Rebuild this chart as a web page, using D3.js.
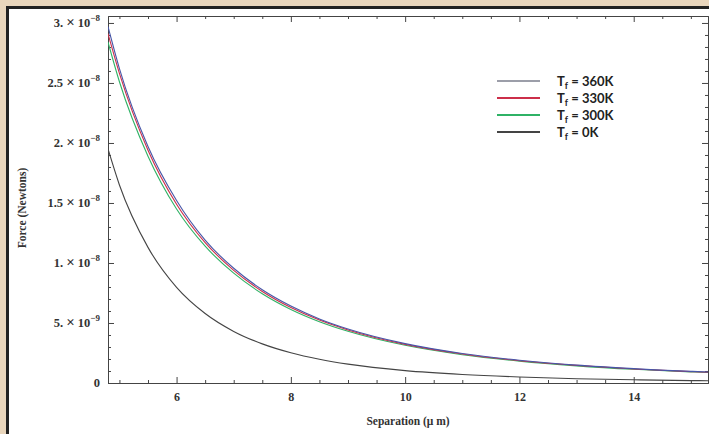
<!DOCTYPE html>
<html lang="en">
<head>
<meta charset="UTF-8">
<script src="https://d3js.org/d3.v7.min.js"></script>
<style>
  body { margin: 0; background: #e9d6bc; }
  svg { display: block; }
  .tick text { font-family: "Liberation Serif", "DejaVu Serif", serif; font-weight: bold; font-size: 12px; fill: #333; }
</style>
</head>
<body>
<div id="chart"></div>
<script>
// separation in micrometres
var separation = [4.8, 5, 5.5, 6, 6.5, 7, 7.5, 8, 8.5, 9, 10, 11, 12, 13, 14, 15, 15.3];
// force in units of 1e-8 N
var force360 = [2.97, 2.62, 1.97, 1.52, 1.19, 0.956, 0.777, 0.641, 0.534, 0.450, 0.328, 0.246, 0.190, 0.149, 0.120, 0.097, 0.092];
var force330 = [2.91, 2.58, 1.94, 1.49, 1.17, 0.939, 0.763, 0.629, 0.524, 0.442, 0.322, 0.242, 0.186, 0.147, 0.117, 0.095, 0.090];
var force300 = [2.84, 2.51, 1.89, 1.45, 1.14, 0.915, 0.744, 0.613, 0.511, 0.431, 0.314, 0.236, 0.182, 0.143, 0.114, 0.093, 0.088];
var force0 = [1.95, 1.65, 1.13, 0.797, 0.579, 0.430, 0.326, 0.252, 0.198, 0.157, 0.103, 0.071, 0.050, 0.036, 0.027, 0.020, 0.019];

var seriesNames = ["360K", "330K", "300K", "0K"];
var seriesColors = ["#4756a8", "#cc2f4a", "#2fb266", "#444444"];
var seriesValues = [force360, force330, force300, force0];

var xMajor = [6, 8, 10, 12, 14];
var yMajor = [0, 0.5e-8, 1e-8, 1.5e-8, 2e-8, 2.5e-8, 3e-8];
var yTickLabels = [["0", ""], ["5.", "\u22129"], ["1.", "\u22128"], ["1.5", "\u22128"], ["2.", "\u22128"], ["2.5", "\u22128"], ["3.", "\u22128"]];

var W = 709, H = 434;
var svg = d3.select("#chart").append("svg").attr("width", W).attr("height", H);

// page: beige margin, dark frame on top/left, white panel
svg.append("rect").attr("x", 6).attr("y", 6).attr("width", W).attr("height", H).attr("fill", "#222");
svg.append("rect").attr("x", 9).attr("y", 9).attr("width", W).attr("height", H).attr("fill", "#fff");

var pLeft = 108, pRight = 708, pTop = 16, pBottom = 383;

var x = d3.scaleLinear().domain([4.8, 15.3]).range([pLeft, pRight]);
var y = d3.scaleLinear().domain([0, 3.058e-8]).range([pBottom, pTop]);

var xMinor = d3.range(5, 15.01, 0.5).filter(function (v) { return v % 2 !== 0; });
var yMinor = d3.range(0, 3.01e-8, 0.1e-8).filter(function (v, i) { return i % 5 !== 0; });

var axisColor = "#444";

function styleAxis(g) {
    g.select(".domain").attr("stroke", axisColor);
    g.selectAll(".tick line").attr("stroke", axisColor);
}

// bottom
svg.append("g").attr("transform", "translate(0," + pBottom + ")")
    .call(d3.axisBottom(x).tickValues(xMinor).tickSize(-3).tickFormat("").tickSizeOuter(0))
    .call(styleAxis);
svg.append("g").attr("transform", "translate(0," + pBottom + ")")
    .call(d3.axisBottom(x).tickValues(xMajor).tickSizeInner(-6).tickSizeOuter(0).tickPadding(9).tickFormat(d3.format("d")))
    .call(styleAxis);
// top
svg.append("g").attr("transform", "translate(0," + pTop + ")")
    .call(d3.axisTop(x).tickValues(xMinor).tickSize(-3).tickFormat("").tickSizeOuter(0))
    .call(styleAxis);
svg.append("g").attr("transform", "translate(0," + pTop + ")")
    .call(d3.axisTop(x).tickValues(xMajor).tickSize(-6).tickFormat("").tickSizeOuter(0))
    .call(styleAxis);
// left
svg.append("g").attr("transform", "translate(" + pLeft + ",0)")
    .call(d3.axisLeft(y).tickValues(yMinor).tickSize(-3).tickFormat("").tickSizeOuter(0))
    .call(styleAxis);
svg.append("g").attr("transform", "translate(" + pLeft + ",0)")
    .call(d3.axisLeft(y).tickValues(yMajor).tickSize(-6).tickFormat("").tickSizeOuter(0))
    .call(styleAxis);
// right
svg.append("g").attr("transform", "translate(" + pRight + ",0)")
    .call(d3.axisRight(y).tickValues(yMinor).tickSize(-3).tickFormat("").tickSizeOuter(0))
    .call(styleAxis);
svg.append("g").attr("transform", "translate(" + pRight + ",0)")
    .call(d3.axisRight(y).tickValues(yMajor).tickSize(-6).tickFormat("").tickSizeOuter(0))
    .call(styleAxis);

// y tick labels like "2.5 × 10^-8"
var yLab = svg.append("g").selectAll("text")
    .data(yMajor)
    .enter().append("text")
    .attr("x", pLeft - 8)
    .attr("y", function (d) { return y(d) + 4; })
    .attr("text-anchor", "end")
    .style("font-family", "'Liberation Serif', serif")
    .style("font-weight", "bold")
    .style("font-size", "12.5px")
    .style("fill", "#333");
yLab.each(function (d, i) {
    var t = d3.select(this), lab = yTickLabels[i];
    if (lab[1] === "") { t.text(lab[0]); return; }
    t.append("tspan").text(lab[0] + " ");
    t.append("tspan").style("font-size", "15px").text("\u00d7");
    t.append("tspan").text(" 10");
    t.append("tspan").attr("dy", -6).style("font-size", "9px").text(lab[1]);
});

// curves
svg.append("clipPath").attr("id", "plotclip")
    .append("rect").attr("x", pLeft).attr("y", pTop).attr("width", pRight - pLeft).attr("height", pBottom - pTop);

var line = d3.line()
    .x(function (d) { return x(d[0]); })
    .y(function (d) { return y(d[1] * 1e-8); })
    .curve(d3.curveMonotoneX);

svg.append("g").attr("clip-path", "url(#plotclip)")
    .selectAll("path")
    .data(seriesValues.map(function (vals, i) { return { i: i, pts: separation.map(function (s, j) { return [s, vals[j]]; }) }; }).reverse())
    .enter().append("path")
    .attr("d", function (d) { return line(d.pts); })
    .attr("fill", "none")
    .attr("stroke", function (d) { return seriesColors[d.i]; })
    .attr("stroke-width", 1.1);

// axis titles
svg.append("text")
    .attr("x", (pLeft + pRight) / 2)
    .attr("y", 425)
    .attr("text-anchor", "middle")
    .style("font-family", "'Liberation Serif', serif")
    .style("font-weight", "bold")
    .style("font-size", "11.5px")
    .style("fill", "#333")
    .text("Separation (\u03bc m)");

svg.append("text")
    .attr("transform", "translate(26,208) rotate(-90)")
    .attr("text-anchor", "middle")
    .style("font-family", "'Liberation Serif', serif")
    .style("font-weight", "bold")
    .style("font-size", "11.5px")
    .style("fill", "#333")
    .text("Force (Newtons)");

// legend
var legend = svg.append("g").selectAll("g")
    .data(seriesNames)
    .enter().append("g")
    .attr("transform", function (d, i) { return "translate(497," + (81 + i * 17) + ")"; });
legend.append("line")
    .attr("x1", 0).attr("x2", 43)
    .attr("stroke", function (d, i) { return i === 0 ? "#3a3f55" : seriesColors[i]; })
    .attr("stroke-width", function (d, i) { return i === 0 ? 1.2 : 2; });
legend.append("text")
    .attr("x", 60)
    .attr("y", 5)
    .style("font-family", "Lato, 'Open Sans', sans-serif")
    .style("font-weight", "bold")
    .style("font-size", "13px")
    .style("fill", "#222")
    .each(function (d) {
        var t = d3.select(this);
        t.append("tspan").text("T");
        t.append("tspan").attr("dy", 3).style("font-size", "9px").text("f");
        t.append("tspan").attr("dy", -3).text(" = " + d);
    });
</script>
</body>
</html>
